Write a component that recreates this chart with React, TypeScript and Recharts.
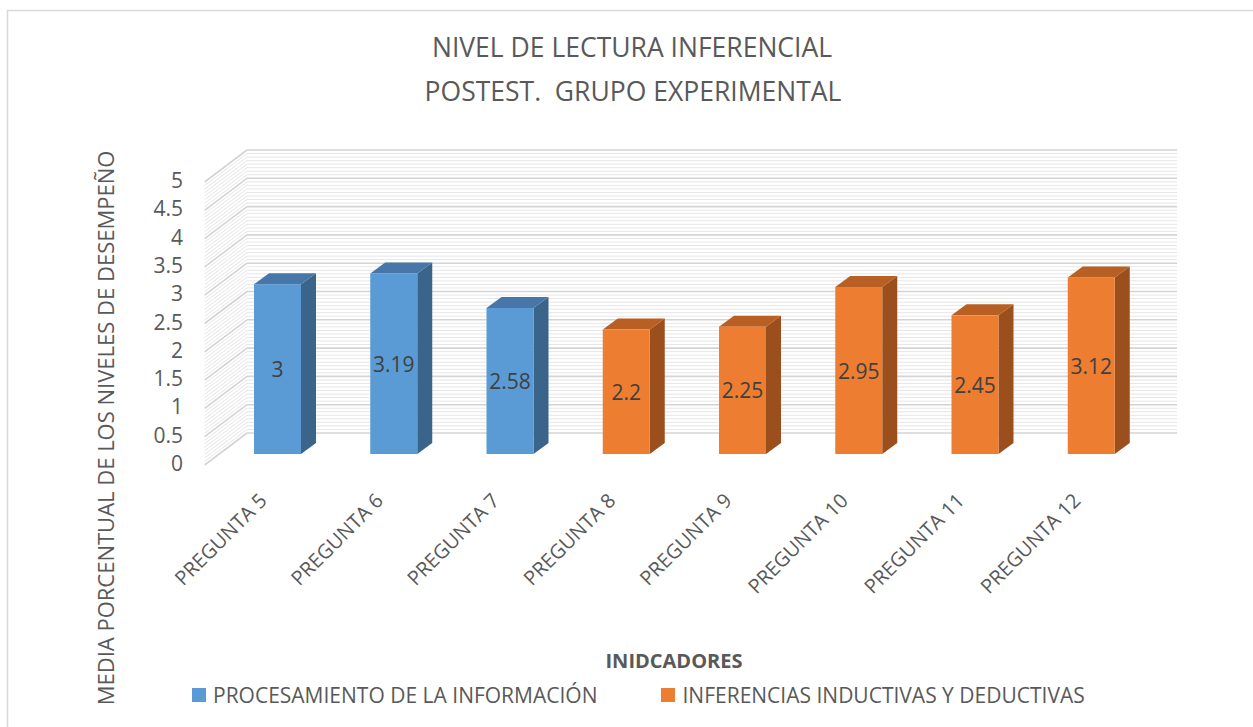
import React from "react";
import {
  BarChart,
  Bar,
  XAxis,
  YAxis,
  CartesianGrid,
  Legend,
  LabelList,
} from "recharts";

const categories = [
  "PREGUNTA 5",
  "PREGUNTA 6",
  "PREGUNTA 7",
  "PREGUNTA 8",
  "PREGUNTA 9",
  "PREGUNTA 10",
  "PREGUNTA 11",
  "PREGUNTA 12",
];
const procesamiento = [3, 3.19, 2.58, null, null, null, null, null];
const inferencias = [null, null, null, 2.2, 2.25, 2.95, 2.45, 3.12];
const yTicks = [0, 0.5, 1, 1.5, 2, 2.5, 3, 3.5, 4, 4.5, 5];
const seriesOrder = ["proc", "inf"];

const data = categories.map((name, i) => ({
  name,
  proc: procesamiento[i],
  inf: inferencias[i],
}));

// minor gridlines on the back wall, 8 per major step
const minorValues: number[] = [];
for (let i = 0; i <= 80; i++) if (i % 8 !== 0) minorValues.push(i / 16);

const FONT = "'Open Sans', sans-serif";
const TEXT = "#595959";

// 3d geometry: front plane and back wall offsets from the bar plane
const FX = 14.4, FY = 11, BX = 28, BY = 21;
const DX = 15, DY = 11;

// the grid generator gets the axis scale either as a d3 function or as a wrapper with .map
function scaleOf(axis: any) {
  const s = axis && axis.scale;
  if (typeof s === "function") return (v: number) => s(v);
  if (s && typeof s.map === "function") return (v: number) => s.map(v);
  return null;
}

function gridPoints(values: number[]) {
  return ({ yAxis }: any) => {
    const f = scaleOf(yAxis);
    return f ? values.map((v) => f(v)) : [];
  };
}

function WallLine(props: any) {
  const { x1, y1, x2, color, sw } = props;
  return (
    <g>
      <line x1={x1 - FX} y1={y1 + FY} x2={x1 + BX} y2={y1 - BY} stroke={color} strokeWidth={sw} />
      <line x1={x1 + BX} y1={y1 - BY} x2={x2 + BX} y2={y1 - BY} stroke={color} strokeWidth={sw} />
    </g>
  );
}

function Box(props: any) {
  const { x, y, width, height, front, top, side } = props;
  if (!height || height <= 0) return null;
  const r = x + width;
  const b = y + height;
  return (
    <g>
      <polygon points={`${r},${y} ${r + DX},${y - DY} ${r + DX},${b - DY} ${r},${b}`} fill={side} />
      <polygon points={`${x},${y} ${x + DX},${y - DY} ${r + DX},${y - DY} ${r},${y}`} fill={top} />
      <rect x={x} y={y} width={width} height={height} fill={front} />
    </g>
  );
}

function ValueLabel(props: any) {
  const { x, y, width, height, value } = props;
  if (value == null) return null;
  return (
    <text
      x={x + width / 2}
      y={y + height / 2}
      textAnchor="middle"
      dominantBaseline="central"
      fill="#404040"
      fontSize={21}
      fontFamily={FONT}
    >
      {value}
    </text>
  );
}

function YTick(props: any) {
  const { x, y, payload } = props;
  return (
    <text
      x={x - 36}
      y={y + FY - 2}
      textAnchor="end"
      dominantBaseline="central"
      fill={TEXT}
      fontSize={21}
      fontFamily={FONT}
    >
      {payload.value}
    </text>
  );
}

function XTick(props: any) {
  const { x, y, payload } = props;
  const tx = x - 9;
  const ty = y + 48;
  return (
    <text
      x={tx}
      y={ty}
      transform={`rotate(-45 ${tx} ${ty})`}
      textAnchor="end"
      fill={TEXT}
      fontSize={20}
      fontFamily={FONT}
    >
      {payload.value}
    </text>
  );
}

function LegendBox(props: any) {
  const items = [...(props.payload || [])].sort(
    (a: any, b: any) => seriesOrder.indexOf(a.dataKey) - seriesOrder.indexOf(b.dataKey)
  );
  return (
    <div style={{ display: "flex", alignItems: "center", fontFamily: FONT, fontSize: 21, color: TEXT }}>
      {items.map((it: any, i: number) => (
        <div key={i} style={{ display: "flex", alignItems: "center", marginRight: 64 }}>
          <span style={{ width: 14, height: 14, background: it.color, marginRight: 7, display: "inline-block" }} />
          <span>{it.value}</span>
        </div>
      ))}
    </div>
  );
}

export default function App() {
  return (
    <div style={{ position: "absolute", left: 0, top: 0, width: 1253, height: 727, background: "#fff" }}>
      <BarChart
        width={1253}
        height={727}
        data={data}
        margin={{ top: 171, right: 104, left: 159, bottom: 173 }}
        barSize={47}
      >
        <CartesianGrid
          vertical={false}
          horizontalCoordinatesGenerator={gridPoints(minorValues)}
          horizontal={(p: any) => <WallLine key={p.key} {...p} color="#E6E6E6" sw={1} />}
        />
        <CartesianGrid
          vertical={false}
          horizontalCoordinatesGenerator={gridPoints(yTicks)}
          horizontal={(p: any) => <WallLine key={p.key} {...p} color="#D4D4D4" sw={1.6} />}
        />
        <XAxis
          dataKey="name"
          interval={0}
          axisLine={false}
          tickLine={false}
          tickSize={0}
          tickMargin={0}
          height={100}
          tick={<XTick />}
        />
        <YAxis
          domain={[0, 5]}
          ticks={yTicks}
          axisLine={false}
          tickLine={false}
          tickSize={0}
          tickMargin={0}
          width={60}
          tick={<YTick />}
        />
        <Legend
          verticalAlign="middle"
          align="center"
          layout="horizontal"
          wrapperStyle={{ position: "absolute", top: 681, left: 192, width: 1000, height: 28 }}
          content={<LegendBox />}
        />
        <Bar
          dataKey="proc"
          name="PROCESAMIENTO DE LA INFORMACIÓN"
          stackId="a"
          fill="#5B9BD5"
          isAnimationActive={false}
          shape={(p: any) => <Box {...p} front="#5B9BD5" top="#4677A8" side="#3A6489" />}
        >
          <LabelList dataKey="proc" content={<ValueLabel />} />
        </Bar>
        <Bar
          dataKey="inf"
          name="INFERENCIAS INDUCTIVAS Y DEDUCTIVAS"
          stackId="a"
          fill="#ED7D31"
          isAnimationActive={false}
          shape={(p: any) => <Box {...p} front="#ED7D31" top="#B85F23" side="#9A4F1D" />}
        >
          <LabelList dataKey="inf" content={<ValueLabel />} />
        </Bar>
        <line x1={7} y1={10.5} x2={1253} y2={10.5} stroke="#D9D9D9" strokeWidth={1.5} />
        <line x1={7.5} y1={10} x2={7.5} y2={727} stroke="#D9D9D9" strokeWidth={1.5} />
        <text x={632} y={57} textAnchor="middle" fill={TEXT} fontSize={26.5} fontFamily={FONT}>
          NIVEL DE LECTURA INFERENCIAL
        </text>
        <text x={633} y={101} textAnchor="middle" fill={TEXT} fontSize={26.5} fontFamily={FONT} style={{ whiteSpace: "pre" }}>
          {"POSTEST.  GRUPO EXPERIMENTAL"}
        </text>
        <text
          x={105}
          y={428}
          transform="rotate(-90 105 428)"
          textAnchor="middle"
          dominantBaseline="central"
          fill={TEXT}
          fontSize={22}
          fontFamily={FONT}
        >
          MEDIA PORCENTUAL DE LOS NIVELES DE DESEMPEÑO
        </text>
        <text
          x={674}
          y={660}
          textAnchor="middle"
          dominantBaseline="central"
          fill={TEXT}
          fontSize={20}
          fontWeight="bold"
          fontFamily={FONT}
        >
          INIDCADORES
        </text>
      </BarChart>
    </div>
  );
}
